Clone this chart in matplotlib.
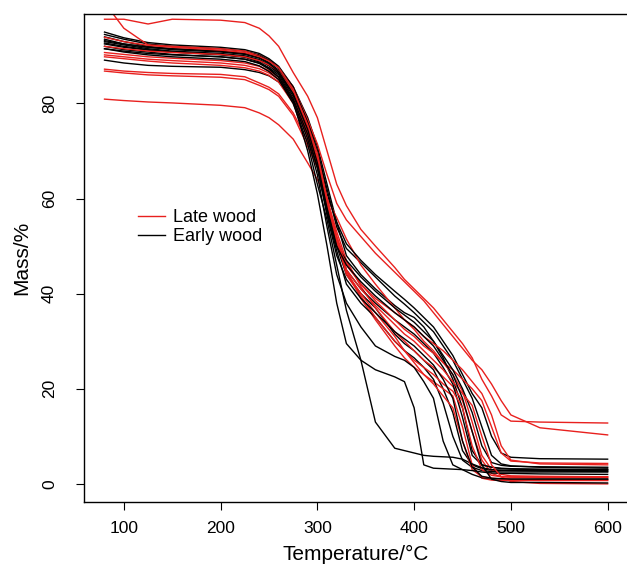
import matplotlib
matplotlib.use("Agg")
import matplotlib.pyplot as plt
from matplotlib.lines import Line2D

plt.rcParams['font.family'] = ['Liberation Sans', 'DejaVu Sans']

# Temperaturas (°C) em que as curvas foram lidas
temperatura = [80, 100, 125, 150, 200, 225, 240, 250, 260, 275, 290, 300, 310, 320, 330, 345, 360,
               380, 390, 400, 410, 420, 430, 440, 450, 460, 470, 480, 490, 500, 530, 600]

# Massa (%) - madeira tardia (late wood)
late_1 = [97.7, 97.7, 96.7, 97.7, 97.5, 97, 95.8, 94.2, 92, 86.5, 81.5, 77, 70, 63, 58.5, 53.5, 50,
          45.5, 43, 41, 39, 37, 34.5, 32, 29.5, 26.5, 22, 18.5, 14.5, 13.2, 13, 12.8]
late_2 = [101.2, 95.8, 92.3, 92, 91.5, 91, 90, 89, 87.5, 83.5, 76.5, 71.5, 65, 59, 55.5, 52, 48.5,
          44.5, 42.5, 40.5, 38.5, 36, 33.5, 31, 28.5, 26, 24, 21, 17.5, 14.5, 11.8, 10.3]
late_3 = [80.9, 80.6, 80.3, 80.1, 79.6, 79.1, 78, 77, 75.5, 72.5, 67.5, 64, 60, 56, 51.5, 46, 42,
          37, 34.5, 32.5, 30, 28, 25.5, 23, 19.5, 13, 6, 3, 2, 1.7, 1.6, 1.5]
late_4 = [87.2, 86.8, 86.5, 86.3, 86.1, 85.6, 84.3, 83.4, 82, 78, 72, 67, 60, 53, 47, 41.5, 37,
          32, 30, 28, 26, 24.5, 22.5, 20.5, 17.5, 11, 5, 2.2, 1.5, 1.4, 1.3, 1.3]
late_5 = [86.8, 86.4, 86, 85.8, 85.5, 85, 83.8, 82.9, 81.5, 77.5, 71, 66.5, 59.5, 52, 45, 39, 34.5,
          29, 26.5, 24.5, 23, 21.5, 20, 18.5, 12, 4, 1.2, 0.8, 0.7, 0.7, 0.7, 0.7]
late_6 = [90.7, 90.3, 89.8, 89.5, 89, 88.5, 87.8, 86.9, 85.5, 81, 74, 68.5, 60, 52, 46.5, 42, 38.5,
          34.5, 32.5, 31, 29, 27.5, 25.5, 24, 22, 20, 17.5, 12, 6.5, 4.8, 4.4, 4.3]
late_7 = [90.2, 89.8, 89.3, 89, 88.5, 88, 87.3, 86.4, 85, 80.5, 73.5, 68, 59.5, 51.5, 44, 39.5, 35,
          30, 28, 26, 24.5, 23, 21, 19.5, 16, 8, 3, 1.8, 1.5, 1.5, 1.5, 1.5]
late_8 = [89.8, 89.4, 88.9, 88.5, 88, 87.5, 86.8, 85.9, 84.5, 80, 73, 67.5, 59, 51, 46, 42, 39,
          36, 34.5, 33, 31, 29.5, 28, 26, 24, 21.5, 19, 14.5, 8, 5, 4.2, 4]
late_9 = [93.9, 93, 92.2, 91.8, 91.2, 90.7, 89.8, 88.9, 87.5, 83, 75.5, 69.5, 60, 51, 44.5, 40, 36,
          31, 28, 25.5, 23, 21, 18.5, 16, 9, 3, 1.5, 1.2, 1, 1, 0.9, 0.8]
late_10 = [92, 91.5, 91, 90.7, 90.3, 89.8, 89, 88.1, 86.8, 82.5, 75, 68.5, 59, 51, 45, 41, 37.5,
           33.5, 31.5, 30, 28, 26, 24, 21.5, 19, 16.5, 10, 4, 1.5, 0.5, 0.1, 0]

# Massa (%) - madeira inicial (early wood)
early_1 = [95, 93.8, 92.8, 92.3, 91.8, 91.3, 90.5, 89.4, 87.8, 83.5, 77, 71, 63, 55, 48, 44, 41,
           37.5, 36, 35, 33, 30, 26.5, 22, 16, 7, 4, 3.5, 3.3, 3.2, 3.1, 3]
early_2 = [94.5, 93.5, 92.5, 92, 91.5, 91, 90.2, 89.1, 87.5, 83, 76.5, 70, 62, 54, 49.5, 46.5, 43.5,
           39.5, 37.8, 36, 34, 32, 29, 26, 22, 18, 12, 6, 4.2, 3.8, 3.5, 3.3]
early_3 = [94, 93, 92, 91.5, 91, 90.5, 89.7, 88.6, 87, 82.5, 75, 68, 58, 50, 44, 40, 37,
           31.5, 29.5, 28, 26, 24, 20, 15, 7, 4, 3.2, 2.9, 2.8, 2.8, 2.7, 2.6]
early_4 = [93.5, 92.5, 91.8, 91.5, 91, 90.5, 89.9, 89, 87.5, 83.5, 76, 70, 61, 55, 50.5, 47, 44,
           40.5, 38.8, 37, 35, 33, 30, 27, 23, 19, 16, 10, 6.5, 5.6, 5.3, 5.2]
early_5 = [93, 92.3, 91.5, 91, 90.5, 90, 89.2, 88.1, 86.5, 82, 75, 68.5, 59, 51, 45, 41, 38,
           34.5, 33, 31.5, 29.5, 27.5, 24.5, 21, 14, 6, 4, 3.5, 3.2, 3.1, 3, 3]
early_6 = [92.7, 92, 91.3, 90.8, 90.3, 89.8, 89, 87.9, 86.3, 81.5, 74, 67, 57, 49, 42, 38, 35,
           30, 28, 26.5, 24.5, 22, 17, 10, 5, 3.5, 2.8, 2.6, 2.5, 2.5, 2.5, 2.5]
early_7 = [89.1, 88.5, 88, 87.8, 87.6, 87.1, 86.5, 85.8, 84.5, 80.5, 73, 66.5, 57, 50, 47, 43.5, 40.5,
           37, 35.5, 34, 32, 30, 27, 24, 20, 15, 8, 4.5, 3.9, 3.7, 3.6, 3.5]
early_8 = [92.5, 91.8, 91.2, 90.8, 90.2, 89.7, 88.7, 87.4, 85.5, 80.5, 70, 61, 50, 38, 29.5, 26, 13,
           7.5, 7, 6.5, 6, 5.8, 5.7, 5.6, 5.2, 4.2, 3.4, 3, 2.9, 2.8, 2.8, 2.8]
early_9 = [91.5, 90.8, 90.2, 89.8, 89.3, 88.8, 87.9, 86.7, 85, 80, 71.5, 63, 55.5, 46, 36.5, 26, 24,
           22.5, 21.5, 16, 4, 3.3, 3.2, 3.1, 3, 2, 1.3, 1.1, 1, 1, 1, 1]
early_10 = [92, 91.3, 90.8, 90.3, 89.8, 89.3, 88.4, 87.2, 85.5, 80.5, 72.5, 65, 54, 44, 38, 33, 29,
            26.8, 26, 24.5, 21.5, 18, 9, 4, 3, 2.8, 2.5, 2.3, 2.2, 2.2, 2.1, 2]
early_11 = [93.2, 92.5, 91.8, 91.3, 90.8, 90.3, 89.5, 88.4, 86.7, 82, 74.5, 67.5, 58, 50, 46, 42.5, 39.5,
            36, 34.5, 33, 31, 29, 26, 23, 18, 11, 4, 1, 0.5, 0.3, 0.3, 0.2]
early_12 = [91.5, 91, 90.5, 90.2, 89.8, 89.3, 88.5, 87.5, 86, 81, 73.5, 66.5, 56.5, 48, 43, 39, 36,
            32, 30.5, 29, 27, 25, 22, 18, 9, 3.5, 1.6, 1.2, 1.1, 1, 1, 1]

curvas_late = [late_1, late_2, late_3, late_4, late_5, late_6, late_7, late_8, late_9, late_10]
curvas_early = [early_1, early_2, early_3, early_4, early_5, early_6, early_7, early_8,
                early_9, early_10, early_11, early_12]

fig = plt.figure(figsize=(6.27, 5.69), dpi=100)
ax = fig.add_axes([0.1346, 0.1178, 0.8666, 0.8576])

# intercala as curvas como no original
for i in range(max(len(curvas_late), len(curvas_early))):
    if i < len(curvas_early):
        ax.plot(temperatura, curvas_early[i], color='black', lw=1.0)
    if i < len(curvas_late):
        ax.plot(temperatura, curvas_late[i], color='#e8201e', lw=1.0)

ax.set_xlim(59.2, 620.8)
ax.set_ylim(-3.8, 98.8)
ax.set_xticks([100, 200, 300, 400, 500, 600])
ax.set_yticks([0, 20, 40, 60, 80])
ax.tick_params(axis='both', direction='out', length=5.8, width=0.8, labelsize=12.5)
ax.tick_params(axis='x', pad=8)
ax.tick_params(axis='y', pad=14)
for lab in ax.get_yticklabels():
    lab.set_rotation(90)
    lab.set_va('center')

for s in ax.spines.values():
    s.set_linewidth(1.0)

ax.set_xlabel("Temperature/°C", fontsize=15, labelpad=6)
ax.set_ylabel("Mass/%", fontsize=15, labelpad=8)

handles = [Line2D([], [], color='#e8201e', lw=1.0), Line2D([], [], color='black', lw=1.0)]
ax.legend(handles, ["Late wood", "Early wood"], loc='center left',
          bbox_to_anchor=(0.0987, 0.5635), frameon=False, fontsize=13,
          borderpad=0, borderaxespad=0, handlelength=1.5, handletextpad=0.45,
          labelspacing=0.12)

fig.savefig("out.png", dpi=100)
